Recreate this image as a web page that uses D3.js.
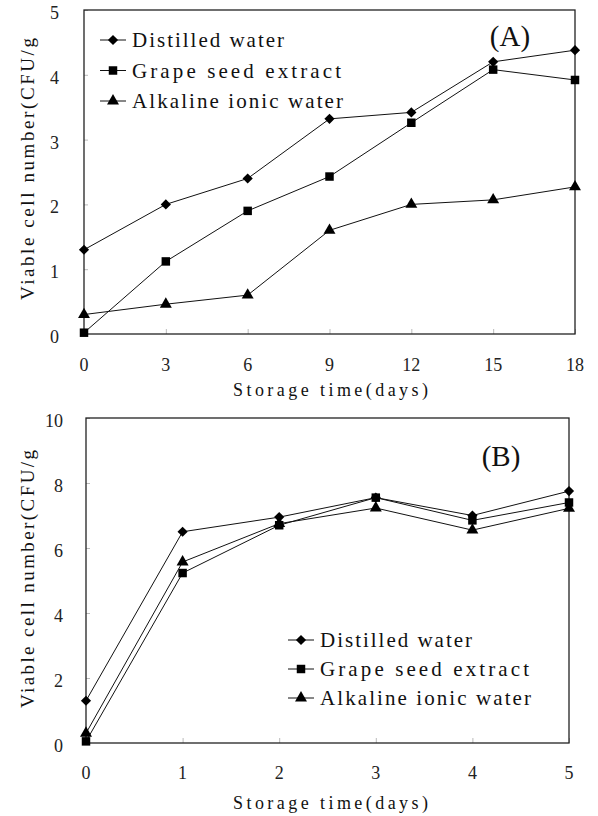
<!DOCTYPE html>
<html>
<head>
<meta charset="utf-8">
<script src="https://cdn.jsdelivr.net/npm/d3@7"></script>
<style>
  body { margin: 0; background: #fff; }
</style>
</head>
<body>
<svg id="chart" width="598" height="816"></svg>
<script>
"use strict";

const font = "'Liberation Serif', 'Times New Roman', serif";

const series_names = ["Distilled water", "Grape seed extract", "Alkaline ionic water"];
const legend_widths = [152, 209, 211];

// panel A
const days_a = [0, 3, 6, 9, 12, 15, 18];
const distilled_a = [1.3, 2.0, 2.4, 3.32, 3.42, 4.2, 4.38];
const grape_a = [0.02, 1.12, 1.9, 2.43, 3.26, 4.08, 3.92];
const alkaline_a = [0.3, 0.46, 0.6, 1.6, 2.0, 2.07, 2.27];
const yticks_a = [0, 1, 2, 3, 4, 5];

// panel B
const days_b = [0, 1, 2, 3, 4, 5];
const distilled_b = [1.3, 6.5, 6.95, 7.55, 7.0, 7.75];
const grape_b = [0.05, 5.23, 6.7, 7.55, 6.85, 7.4];
const alkaline_b = [0.3, 5.57, 6.75, 7.23, 6.55, 7.22];
const yticks_b = [0, 2, 4, 6, 8, 10];

const svg = d3.select("#chart");

// diamond = rotated square, square, triangle
function marker(sel, k) {
    if (k === 0) {
        sel.attr("d", d3.symbol().type(d3.symbolSquare).size(52)());
        sel.attr("transform", function () { return d3.select(this).attr("transform") + " rotate(45)"; });
    } else if (k === 1) {
        sel.attr("d", d3.symbol().type(d3.symbolSquare).size(72)());
    } else {
        sel.attr("d", d3.symbol().type(d3.symbolTriangle).size(62)());
    }
    sel.attr("fill", "#000");
}

function genPanel(opt) {
    const x = d3.scaleLinear().domain(opt.xdomain).range([opt.left, opt.right]);
    const y = d3.scaleLinear().domain(opt.ydomain).range([opt.bottom, opt.top]);
    const g = svg.append("g");

    // faint inner ticks
    g.append("g")
        .attr("transform", `translate(0,${opt.bottom})`)
        .call(d3.axisTop(x).tickValues(opt.xvals).tickSize(5).tickFormat(""))
        .call(a => a.select(".domain").remove())
        .selectAll("line").attr("stroke", "#bbb");
    g.append("g")
        .attr("transform", `translate(${opt.left},0)`)
        .call(d3.axisRight(y).tickValues(opt.yticks).tickSize(4).tickFormat(""))
        .call(a => a.select(".domain").remove())
        .selectAll("line").attr("stroke", "#bbb");

    // frame
    g.append("rect")
        .attr("x", opt.left).attr("y", opt.top)
        .attr("width", opt.right - opt.left).attr("height", opt.bottom - opt.top)
        .attr("fill", "none").attr("stroke", "#222").attr("stroke-width", 1.3);

    // tick labels
    g.selectAll(".xl").data(opt.xvals).enter().append("text")
        .attr("x", d => x(d)).attr("y", opt.bottom + opt.xlab_dy)
        .attr("text-anchor", "middle")
        .attr("font-family", font).attr("font-size", 18).attr("fill", "#222")
        .text(d => d);
    g.selectAll(".yl").data(opt.yticks).enter().append("text")
        .attr("x", opt.left - opt.ylab_dx).attr("y", d => y(d) + 9)
        .attr("text-anchor", "end")
        .attr("font-family", font).attr("font-size", 18).attr("fill", "#222")
        .text(d => d);

    // axis titles
    g.append("text")
        .attr("x", 233).attr("y", opt.bottom + opt.xtitle_dy)
        .attr("font-family", font).attr("font-size", 18).attr("fill", "#111")
        .attr("textLength", 195).attr("lengthAdjust", "spacing")
        .text("Storage time(days)");
    g.append("text")
        .attr("transform", `translate(${opt.ytitle_x},${opt.ytitle_y0}) rotate(-90)`)
        .attr("font-family", font).attr("font-size", 19).attr("fill", "#111")
        .attr("textLength", opt.ytitle_len).attr("lengthAdjust", "spacing")
        .text("Viable cell number(CFU/g");

    // lines and markers
    const line = d3.line().x((d, i) => x(opt.xvals[i])).y(d => y(d));
    opt.data.forEach((s, k) => {
        g.append("path").datum(s)
            .attr("d", line).attr("fill", "none")
            .attr("stroke", "#111").attr("stroke-width", 1);
        g.selectAll(null).data(s).enter().append("path")
            .attr("transform", (d, i) => `translate(${x(opt.xvals[i])},${y(d)})`)
            .call(marker, k);
    });

    // legend
    const lg = g.append("g");
    series_names.forEach((name, k) => {
        const yy = opt.legend_y + k * opt.legend_dy;
        lg.append("line")
            .attr("x1", opt.legend_x - 13).attr("x2", opt.legend_x + 13)
            .attr("y1", yy).attr("y2", yy)
            .attr("stroke", "#111").attr("stroke-width", 1);
        lg.append("path")
            .attr("transform", `translate(${opt.legend_x},${yy})`)
            .call(marker, k);
        lg.append("text")
            .attr("x", opt.legend_x + 19).attr("y", yy + 7)
            .attr("font-family", font).attr("font-size", 21).attr("fill", "#111")
            .attr("textLength", legend_widths[k]).attr("lengthAdjust", "spacing")
            .text(name);
    });

    // panel label
    g.append("text")
        .attr("x", opt.label_x).attr("y", opt.label_y)
        .attr("text-anchor", "middle")
        .attr("font-family", font).attr("font-size", 29).attr("fill", "#111")
        .text(opt.label);
}

genPanel({
    left: 84, right: 575, top: 10, bottom: 334,
    xdomain: [0, 18], ydomain: [0, 5],
    xvals: days_a, yticks: yticks_a,
    data: [distilled_a, grape_a, alkaline_a],
    xlab_dy: 37, ylab_dx: 25,
    xtitle_dy: 62, ytitle_x: 34, ytitle_y0: 300, ytitle_len: 262,
    legend_x: 113, legend_y: 40, legend_dy: 30.5,
    label: "(A)", label_x: 510, label_y: 46
});

genPanel({
    left: 86, right: 569, top: 418, bottom: 743,
    xdomain: [0, 5], ydomain: [0, 10],
    xvals: days_b, yticks: yticks_b,
    data: [distilled_b, grape_b, alkaline_b],
    xlab_dy: 36, ylab_dx: 23,
    xtitle_dy: 66, ytitle_x: 34, ytitle_y0: 708, ytitle_len: 258,
    legend_x: 301, legend_y: 640, legend_dy: 29,
    label: "(B)", label_x: 501, label_y: 466
});
</script>
</body>
</html>
